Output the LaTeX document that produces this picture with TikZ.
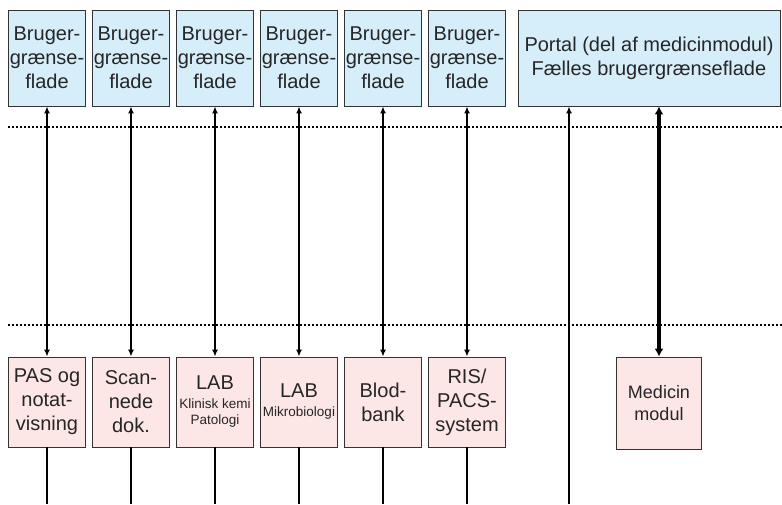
\documentclass[tikz,border=0pt]{standalone}
\usepackage{fontspec}
\setmainfont{Liberation Sans}
\usetikzlibrary{arrows.meta}

\definecolor{guiblue}{HTML}{D6EEFA}
\definecolor{syspink}{HTML}{FDE6E6}

\begin{document}
\begin{tikzpicture}[
  x=1pt, y=-1pt,
  gui/.style={rectangle, fill=guiblue, draw=black!80, line width=0.8pt, inner sep=0pt, minimum width=77pt, minimum height=96pt, align=center, text=black!85, font=\fontsize{20}{24}\selectfont},
  sys/.style={gui, fill=syspink, minimum height=90pt},
  pil/.style={line width=1.7pt, {Latex[length=7pt,width=6pt]}-{Latex[length=7pt,width=6pt]}},
  tykpil/.style={line width=3.2pt, {Latex[length=8pt,width=9pt]}-{Latex[length=8pt,width=9pt]}},
  oppil/.style={line width=2.2pt, -{Latex[length=7pt,width=6pt]}},
  streg/.style={line width=2.4pt},
  skel/.style={line width=2pt, dash pattern=on 2pt off 2pt}
]
  \useasboundingbox (0,0) rectangle (782,504);

  % Brugergrænseflader
  \node[gui] (g1) at (47,58) {Bruger-\\grænse-\\flade};
  \node[gui] (g2) at (131,58) {Bruger-\\grænse-\\flade};
  \node[gui] (g3) at (215,58) {Bruger-\\grænse-\\flade};
  \node[gui] (g4) at (299,58) {Bruger-\\grænse-\\flade};
  \node[gui] (g5) at (383,58) {Bruger-\\grænse-\\flade};
  \node[gui] (g6) at (467,58) {Bruger-\\grænse-\\flade};
  \node[gui, minimum width=262pt] (portal) at (649,58) {Portal (del af medicinmodul)\\Fælles brugergrænseflade};

  % Systemer
  \node[sys] (pas) at (47,402) {PAS og\\notat-\\visning};
  \node[sys] (scan) at (131,402) {Scan-\\nede\\dok.};
  \node[sys] (klin) at (215,402) {LAB\\[-5pt]{\fontsize{13.5}{16}\selectfont Klinisk kemi}\\[-8pt]{\fontsize{13.5}{16}\selectfont Patologi}};
  \node[sys] (mikro) at (299,402) {LAB\\[-5pt]{\fontsize{13.5}{16}\selectfont Mikrobiologi}};
  \node[sys] (blod) at (383,402) {Blod-\\bank};
  \node[sys] (ris) at (467,402) {RIS/\\PACS-\\system};
  \node[sys, minimum width=85pt, minimum height=92pt, font=\fontsize{18}{22}\selectfont] (medicin) at (659,403) {Medicin\\modul};

  % Skillelinjer
  \draw[skel] (8,127) -- (782,127);
  \draw[skel] (8,325) -- (782,325);

  % Forbindelser op og ned
  \draw[pil] (g1) -- (pas);
  \draw[pil] (g2) -- (scan);
  \draw[pil] (g3) -- (klin);
  \draw[pil] (g4) -- (mikro);
  \draw[pil] (g5) -- (blod);
  \draw[pil] (g6) -- (ris);
  \draw[tykpil] (medicin.north) -- (medicin.north |- portal.south);

  % Linjer ud af billedet
  \coordinate (udgang) at (569,504);
  \draw[oppil] (udgang) -- (udgang |- portal.south);
  \draw[streg] (pas.south) -- (pas.south |- udgang);
  \draw[streg] (scan.south) -- (scan.south |- udgang);
  \draw[streg] (klin.south) -- (klin.south |- udgang);
  \draw[streg] (mikro.south) -- (mikro.south |- udgang);
  \draw[streg] (blod.south) -- (blod.south |- udgang);
  \draw[streg] (ris.south) -- (ris.south |- udgang);

\end{tikzpicture}
\end{document}
